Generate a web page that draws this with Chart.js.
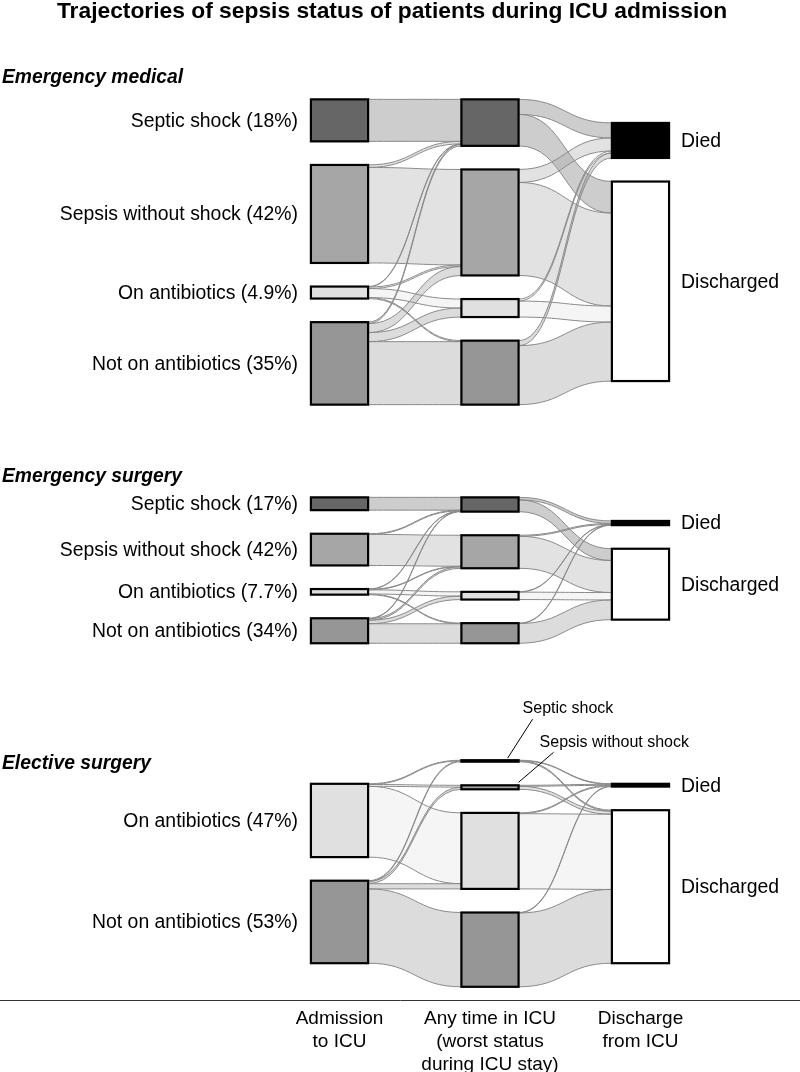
<!DOCTYPE html>
<html><head><meta charset="utf-8">
<script src="https://cdn.jsdelivr.net/npm/chart.js@4.4.0/dist/chart.umd.min.js"></script>
<style>html,body{margin:0;padding:0;background:#fff}#wrap{width:800px;height:1072px;position:relative}</style>
</head><body><div id="wrap"><canvas id="c" width="800" height="1072"></canvas></div>
<script>
// ---------------- DATA ----------------
const chartTitle = 'Trajectories of sepsis status of patients during ICU admission';
const stageLabels = [['Admission','to ICU'],['Any time in ICU','(worst status','during ICU stay)'],['Discharge','from ICU']];
const panelTitles = ['Emergency medical','Emergency surgery','Elective surgery'];
const statusCategories = ['Septic shock','Sepsis without shock','On antibiotics','Not on antibiotics'];
const outcomeCategories = ['Died','Discharged'];

// Emergency medical
const medAdmissionStatus = [0,1,2,3];
const medAdmissionLabels = ['Septic shock (18%)','Sepsis without shock (42%)','On antibiotics (4.9%)','Not on antibiotics (35%)'];
// rows: admission status, cols: worst status (Septic, Sepsis, On abx, Not)
const medAdmToWorst = [
  [42, 0, 0, 0],
  [2.5, 95.5, 0, 0],
  [0.5, 1.5, 9, 1],
  [1.5, 9, 9, 63]
];
// rows: worst status, cols: Died, Discharged
const medWorstToDischarge = [[15, 31.5],[13, 93],[2, 16],[5, 59]];

// Emergency surgery
const surgAdmissionStatus = [0,1,2,3];
const surgAdmissionLabels = ['Septic shock (17%)','Sepsis without shock (42%)','On antibiotics (7.7%)','Not on antibiotics (34%)'];
const surgAdmToWorst = [
  [12.8, 0, 0, 0],
  [0.7, 31, 0, 0],
  [0.3, 0.5, 4.2, 0.6],
  [0.5, 1.5, 3.5, 19.5]
];
const surgWorstToDischarge = [[2.5, 11.8],[1, 32],[0.3, 7.4],[0.4, 19.7]];

// Elective surgery
const electAdmissionStatus = [2,3];
const electAdmissionLabels = ['On antibiotics (47%)','Not on antibiotics (53%)'];
const electAdmToWorst = [
  [0.7, 1.8, 70.8, 0],
  [0.8, 2.2, 5.2, 74.3]
];
const electWorstToDischarge = [[0.5, 1],[1, 3],[0.8, 75.2],[0.5, 73.8]];
const electAnnotations = ['Septic shock','Sepsis without shock'];

// ---------------- STYLE / LAYOUT ----------------
const FONT = "'Liberation Sans', Arial, Helvetica, sans-serif";
const statusColors = ['#666666','#a6a6a6','#e0e0e0','#969696'];
const outcomeColors = ['#000000','#ffffff'];
const layout = {
  panelCenterY: [252, 570.3, 873.5],
  panelTitleY: [83, 482, 769],
  gap: 23.6,
  nodeHalf: 0.19,
  xMin: -2.256, xMax: 3.06,
  yMax: 1000
};

const panels = [
  {title: panelTitles[0], adm: medAdmissionStatus, admLabels: medAdmissionLabels, a2w: medAdmToWorst, w2d: medWorstToDischarge},
  {title: panelTitles[1], adm: surgAdmissionStatus, admLabels: surgAdmissionLabels, a2w: surgAdmToWorst, w2d: surgWorstToDischarge},
  {title: panelTitles[2], adm: electAdmissionStatus, admLabels: electAdmissionLabels, a2w: electAdmToWorst, w2d: electWorstToDischarge, annot: electAnnotations}
];

function hexToRgba(h, a){
  const r=parseInt(h.slice(1,3),16), g=parseInt(h.slice(3,5),16), b=parseInt(h.slice(5,7),16);
  return `rgba(${r},${g},${b},${a})`;
}

function buildPanel(p, center){
  const sum = a => a.reduce((s,v)=>s+v,0);
  const col0 = p.a2w.map((row,i)=>({value: sum(row), color: statusColors[p.adm[i]], label: p.admLabels[i]}));
  const col1 = statusCategories.map((c,j)=>({value: sum(p.a2w.map(r=>r[j])), color: statusColors[j], label: c}));
  const col2 = outcomeCategories.map((c,k)=>({value: sum(p.w2d.map(r=>r[k])), color: outcomeColors[k], label: c}));
  const cols = [col0, col1, col2];
  cols.forEach(col=>{
    const tot = sum(col.map(n=>n.value)) + layout.gap*(col.length-1);
    let y = center - tot/2;
    col.forEach(n=>{ n.y0 = y; n.y1 = y + n.value; y = n.y1 + layout.gap; n.outOff = n.y0; n.inOff = n.y0; });
  });
  const flows = [];
  const mats = [p.a2w, p.w2d];
  for (let s=0; s<2; s++){
    const m = mats[s], src = cols[s], tgt = cols[s+1];
    const list = [];
    for (let i=0;i<m.length;i++) for (let j=0;j<m[i].length;j++) if (m[i][j]>0) list.push({i,j,v:m[i][j]});
    list.forEach(f=>{ const n=src[f.i]; f.sy0=n.outOff; f.sy1=n.outOff+f.v; n.outOff=f.sy1; });
    list.slice().sort((a,b)=>a.j-b.j||a.i-b.i).forEach(f=>{ const n=tgt[f.j]; f.ty0=n.inOff; f.ty1=n.inOff+f.v; n.inOff=f.ty1; });
    list.forEach(f=>{ f.stage=s; f.color=src[f.i].color; flows.push(f); });
  }
  return {cols, flows};
}

const built = panels.map((p,k)=>buildPanel(p, layout.panelCenterY[k]));

const sankeyPlugin = {
  id: 'sankeyDraw',
  afterDatasetsDraw(chart){
    const ctx = chart.ctx, xs = chart.scales.x, ys = chart.scales.y;
    const X = v=>xs.getPixelForValue(v), Y = v=>ys.getPixelForValue(v);
    ctx.save();
    ctx.fillStyle = '#000';
    ctx.font = `bold 22.8px ${FONT}`;
    ctx.textAlign = 'center'; ctx.textBaseline = 'alphabetic';
    ctx.fillText(chartTitle, 392, 17.5);

    built.forEach((b,k)=>{
      const p = panels[k];
      b.flows.forEach(f=>{
        const x0 = X(f.stage + layout.nodeHalf), x1 = X(f.stage + 1 - layout.nodeHalf);
        const xm = (x0+x1)/2;
        const a0=Y(f.sy0), a1=Y(f.sy1), b0=Y(f.ty0), b1=Y(f.ty1);
        ctx.beginPath();
        ctx.moveTo(x0,a0);
        ctx.bezierCurveTo(xm,a0,xm,b0,x1,b0);
        ctx.lineTo(x1,b1);
        ctx.bezierCurveTo(xm,b1,xm,a1,x0,a1);
        ctx.closePath();
        ctx.fillStyle = hexToRgba(f.color, 0.33);
        ctx.fill();
        ctx.strokeStyle = '#8a8a8a'; ctx.lineWidth = 1;
        ctx.beginPath(); ctx.moveTo(x0,a0); ctx.bezierCurveTo(xm,a0,xm,b0,x1,b0); ctx.stroke();
        ctx.beginPath(); ctx.moveTo(x0,a1); ctx.bezierCurveTo(xm,a1,xm,b1,x1,b1); ctx.stroke();
      });
      b.cols.forEach((col,ci)=>{
        col.forEach(n=>{
          const l = X(ci - layout.nodeHalf), r = X(ci + layout.nodeHalf);
          const t = Y(n.y0), bt = Y(n.y1);
          ctx.fillStyle = n.color;
          ctx.fillRect(l, t, r-l, bt-t);
          ctx.strokeStyle = '#000'; ctx.lineWidth = 2.2;
          ctx.strokeRect(l, t, r-l, bt-t);
          n.px = {l, r, t, b: bt};
        });
      });
      ctx.fillStyle = '#000';
      ctx.font = `19.4px ${FONT}`;
      ctx.textBaseline = 'middle';
      ctx.textAlign = 'right';
      b.cols[0].forEach(n=> ctx.fillText(n.label, n.px.l - 13, (n.px.t+n.px.b)/2 + 1));
      ctx.textAlign = 'left';
      b.cols[2].forEach(n=> ctx.fillText(n.label, n.px.r + 12, (n.px.t+n.px.b)/2 + 1));
      ctx.font = `italic bold 19.3px ${FONT}`;
      ctx.textBaseline = 'alphabetic';
      ctx.fillText(p.title, 2, layout.panelTitleY[k]);
      if (p.annot){
        ctx.font = `16px ${FONT}`;
        ctx.strokeStyle = '#000'; ctx.lineWidth = 1;
        const n0 = b.cols[1][0], n1 = b.cols[1][1];
        let sx = n0.px.r - 11, sy = n0.px.t - 2;
        ctx.beginPath(); ctx.moveTo(sx, sy); ctx.lineTo(sx+25, sy-39); ctx.stroke();
        ctx.fillText(p.annot[0], sx+15, sy-45);
        sx = n1.px.r; sy = n1.px.t - 3;
        ctx.beginPath(); ctx.moveTo(sx, sy); ctx.lineTo(sx+35, sy-30); ctx.stroke();
        ctx.fillText(p.annot[1], sx+21, sy-35);
      }
    });
    ctx.restore();
  }
};

new Chart(document.getElementById('c'), {
  type: 'scatter',
  data: { datasets: [{ data: [], showLine: false, pointRadius: 0 }] },
  options: {
    responsive: false, animation: false, devicePixelRatio: 1,
    layout: { padding: 0 },
    plugins: { legend: {display:false}, tooltip: {enabled:false}, title: {display:false} },
    scales: {
      x: {
        type: 'linear', min: layout.xMin, max: layout.xMax,
        afterBuildTicks: s => { s.ticks = stageLabels.map((_,i)=>({value:i})); },
        afterFit: s => { s.height = 72; },
        grid: { display: false, drawTicks: false },
        border: { display: true, color: '#333', width: 1 },
        ticks: {
          autoSkip: false, maxRotation: 0, minRotation: 0, padding: 7,
          color: '#000', font: { family: FONT, size: 19, lineHeight: 23/19 },
          callback: v => stageLabels[v]
        }
      },
      y: { type: 'linear', display: false, reverse: true, min: 0, max: layout.yMax }
    }
  },
  plugins: [sankeyPlugin]
});
</script></body></html>
